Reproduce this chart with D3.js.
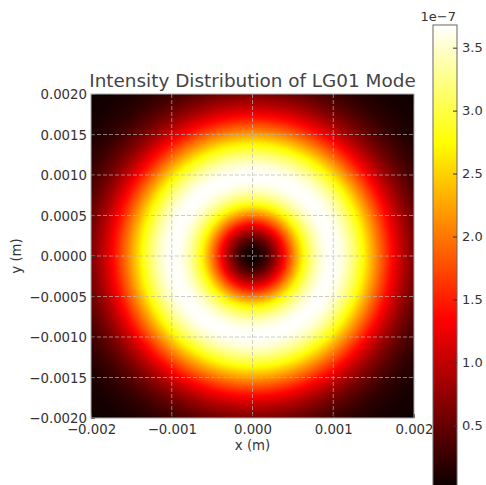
<!DOCTYPE html>
<html>
<head>
<meta charset="utf-8">
<title>Intensity Distribution of LG01 Mode</title>
<script src="https://d3js.org/d3.v7.min.js"></script>
<style>
    body { margin: 0; background: white; }
    svg { display: block; font-family: "DejaVu Sans", sans-serif; }
</style>
</head>
<body>
<svg width="486" height="485"></svg>
<script>
// tick values
var xTicks = [-0.002, -0.001, 0, 0.001, 0.002];
var yTicks = [-0.002, -0.0015, -0.001, -0.0005, 0, 0.0005, 0.001, 0.0015, 0.002];
var cbTicks = [0.5, 1.0, 1.5, 2.0, 2.5, 3.0, 3.5];

// radial intensity profile (radius in mm, intensity in 1e-7)
var radiusMm = [0, 0.1, 0.2, 0.3, 0.4, 0.5, 0.6, 0.7, 0.8, 0.9, 1.0, 1.1, 1.2, 1.3, 1.4,
                1.5, 1.6, 1.7, 1.8, 1.9, 2.0, 2.1, 2.2, 2.3, 2.4, 2.5, 2.6, 2.7, 2.8, 2.9];
var intensityE7 = [0, 0.10, 0.40, 0.85, 1.41, 2.01, 2.58, 3.06, 3.42, 3.63, 3.68, 3.58, 3.35, 3.03, 2.65,
                   2.25, 1.86, 1.49, 1.16, 0.88, 0.65, 0.47, 0.33, 0.22, 0.15, 0.10, 0.06, 0.04, 0.02, 0.01];

// matplotlib "hot" colormap anchors
var hotStops = [0, 0.365079, 0.746032, 1];
var hotColors = ["rgb(11,0,0)", "rgb(255,0,0)", "rgb(255,255,0)", "rgb(255,255,255)"];

var gridN = 200;
var extent = [-0.002, 0.002];

var svg = d3.select("svg");
var plot = {left: 91, top: 94, width: 323, height: 324};
var cb = {left: 433, top: 25, width: 24, bottom: 488.3};

var xs = d3.scaleLinear().domain(extent).range([plot.left, plot.left + plot.width]);
var ys = d3.scaleLinear().domain(extent).range([plot.top + plot.height, plot.top]);

var profile = d3.scaleLinear().domain(radiusMm.map(function(r) { return r / 1000; }))
    .range(intensityE7).clamp(true);
var vmax = d3.max(intensityE7);
var hot = d3.scaleLinear().domain(hotStops).range(hotColors).clamp(true);
var cmap = function(v) { return hot(v / vmax); };

// heatmap rendered on a canvas, then dropped into the svg as an image
var cell = d3.scaleLinear().domain([0, gridN - 1]).range(extent);
var canvas = document.createElement("canvas");
canvas.width = gridN;
canvas.height = gridN;
var ctx = canvas.getContext("2d");
var img = ctx.createImageData(gridN, gridN);
for (var j = 0; j < gridN; j++) {
    var yv = cell(gridN - 1 - j);
    for (var i = 0; i < gridN; i++) {
        var xv = cell(i);
        var c = d3.rgb(cmap(profile(Math.hypot(xv, yv))));
        var k = (j * gridN + i) * 4;
        img.data[k] = c.r;
        img.data[k + 1] = c.g;
        img.data[k + 2] = c.b;
        img.data[k + 3] = 255;
    }
}
ctx.putImageData(img, 0, 0);

svg.append("image")
    .attr("x", plot.left)
    .attr("y", plot.top)
    .attr("width", plot.width)
    .attr("height", plot.height)
    .attr("preserveAspectRatio", "none")
    .attr("href", canvas.toDataURL());

// grid
var grid = svg.append("g")
    .attr("stroke", "#b8b8b8")
    .attr("stroke-width", 0.8)
    .attr("stroke-dasharray", "4,2")
    .attr("opacity", 0.85);
grid.selectAll("line.gx").data(xTicks.slice(1, -1)).enter().append("line")
    .attr("x1", function(d) { return xs(d); })
    .attr("x2", function(d) { return xs(d); })
    .attr("y1", plot.top)
    .attr("y2", plot.top + plot.height);
grid.selectAll("line.gy").data(yTicks.slice(1, -1)).enter().append("line")
    .attr("y1", function(d) { return ys(d); })
    .attr("y2", function(d) { return ys(d); })
    .attr("x1", plot.left)
    .attr("x2", plot.left + plot.width);

// axes, ticks pointing inwards
var xAxis = svg.append("g")
    .attr("transform", "translate(0," + (plot.top + plot.height) + ")")
    .call(d3.axisBottom(xs).tickValues(xTicks).tickFormat(d3.format(".3f")).tickSizeInner(-4).tickSizeOuter(0).tickPadding(8));
var yAxis = svg.append("g")
    .attr("transform", "translate(" + plot.left + ",0)")
    .call(d3.axisLeft(ys).tickValues(yTicks).tickFormat(d3.format(".4f")).tickSizeInner(-4).tickSizeOuter(0).tickPadding(8));

[xAxis, yAxis].forEach(function(a) {
    a.select(".domain").remove();
    a.selectAll(".tick line").attr("stroke", "#333");
    a.selectAll(".tick text")
        .attr("fill", "#333")
        .style("font-family", "DejaVu Sans")
        .style("font-size", "13.3px");
});
xAxis.selectAll(".tick text").attr("y", 16).attr("dy", null);
yAxis.selectAll(".tick text").attr("x", -4).attr("dy", "0.36em");

svg.append("rect")
    .attr("x", plot.left)
    .attr("y", plot.top)
    .attr("width", plot.width)
    .attr("height", plot.height)
    .attr("fill", "none")
    .attr("stroke", "#aaa")
    .attr("stroke-width", 1);

// labels
svg.append("text")
    .attr("x", plot.left + plot.width / 2)
    .attr("y", 87)
    .attr("text-anchor", "middle")
    .attr("fill", "#444")
    .style("font-size", "18.4px")
    .text("Intensity Distribution of LG01 Mode");

svg.append("text")
    .attr("x", plot.left + plot.width / 2)
    .attr("y", 450)
    .attr("text-anchor", "middle")
    .attr("fill", "#333")
    .style("font-size", "13.3px")
    .text("x (m)");

svg.append("text")
    .attr("transform", "translate(21," + (plot.top + plot.height / 2) + ") rotate(-90)")
    .attr("text-anchor", "middle")
    .attr("fill", "#333")
    .style("font-size", "13.3px")
    .text("y (m)");

// colorbar
var cs = d3.scaleLinear().domain([0, vmax]).range([cb.bottom, cb.top]);
var grad = svg.append("defs").append("linearGradient")
    .attr("id", "hotgrad")
    .attr("x1", 0).attr("y1", 1).attr("x2", 0).attr("y2", 0);
grad.selectAll("stop").data(hotStops).enter().append("stop")
    .attr("offset", function(d) { return d; })
    .attr("stop-color", function(d, i) { return hotColors[i]; });

svg.append("rect")
    .attr("x", cb.left)
    .attr("y", cb.top)
    .attr("width", cb.width)
    .attr("height", cb.bottom - cb.top)
    .attr("fill", "url(#hotgrad)")
    .attr("stroke", "#666")
    .attr("stroke-width", 1);

var cAxis = svg.append("g")
    .attr("transform", "translate(" + (cb.left + cb.width) + ",0)")
    .call(d3.axisRight(cs).tickValues(cbTicks).tickFormat(d3.format(".1f")).tickSizeInner(-4).tickSizeOuter(0).tickPadding(8));
cAxis.select(".domain").remove();
cAxis.selectAll(".tick line").attr("stroke", "#333");
cAxis.selectAll(".tick text")
    .attr("x", 5)
    .attr("fill", "#333")
    .style("font-family", "DejaVu Sans")
    .style("font-size", "13px");

svg.append("text")
    .attr("x", cb.left + cb.width - 1)
    .attr("y", 21)
    .attr("text-anchor", "end")
    .attr("fill", "#333")
    .style("font-size", "13px")
    .text("1e\u22127");
</script>
</body>
</html>
